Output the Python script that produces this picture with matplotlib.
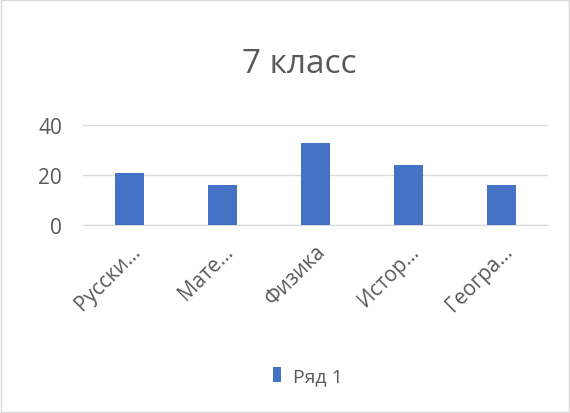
import matplotlib
matplotlib.use('Agg')
import matplotlib.pyplot as plt
from matplotlib.patches import Rectangle

plt.rcParams['font.family'] = ['Open Sans', 'DejaVu Sans']

# dati
predmety = ['Русски…', 'Мате…', 'Физика', 'Истор…', 'Геогра…']
znacheniya = [21, 16, 33, 24, 16]
serija = 'Ряд 1'
y_ticks = [0, 20, 40]

grey = '#595959'
blue = '#4472C4'

fig = plt.figure(figsize=(5.7, 4.14), dpi=100)
ax = fig.add_axes([0.1456, 0.454, 0.8158, 0.2415])

x = range(len(predmety))
ax.bar(x, znacheniya, width=0.32, color=blue, label=serija, zorder=3)

ax.set_xlim(-0.5, len(predmety) - 0.5)
ax.set_ylim(0, 40)
ax.set_yticks(y_ticks)
ax.grid(axis='y', color='#D9D9D9', linewidth=1, zorder=0)
for s in ['top', 'right', 'left']:
    ax.spines[s].set_visible(False)
ax.spines['bottom'].set_color('#D9D9D9')
ax.tick_params(axis='both', length=0, colors=grey, labelsize=15)
ax.tick_params(axis='y', pad=15)
ax.set_xticks(list(x))
ax.set_xticklabels(predmety, rotation=45, ha='right', va='top', rotation_mode='anchor')
ax.tick_params(axis='x', pad=11, labelsize=15)

fig.text(0.525, 0.843, '7 класс', ha='center', va='center', fontsize=24, color=grey)

fig.legend(loc='center', bbox_to_anchor=(0.54, 0.089), frameon=False,
           handlelength=0.4, handleheight=0.8, handletextpad=0.6,
           fontsize=14, labelcolor=grey)

# bordo della figura
fig.patches.append(Rectangle((0.002, 0.002), 0.996, 0.996, transform=fig.transFigure,
                             fill=False, edgecolor='#D9D9D9', linewidth=1))

fig.savefig('out.png', dpi=100)
